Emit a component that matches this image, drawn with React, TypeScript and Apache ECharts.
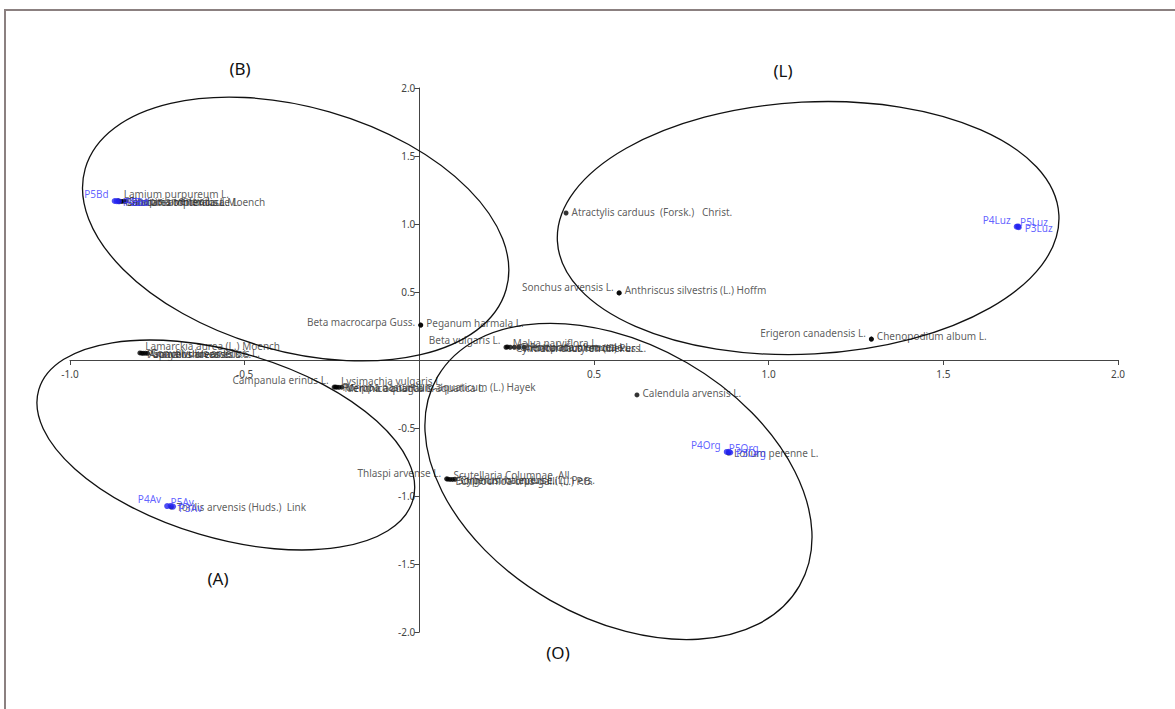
import React, { useEffect, useRef } from "react";
import * as echarts from "echarts";

// ---- axes ----
const X_MIN = -1.0;
const X_MAX = 2.0;
const X_STEP = 0.5;
const Y_MIN = -2.0;
const Y_MAX = 2.0;
const Y_STEP = 0.5;

// ---- species (black points) ----
const speciesNames = [
  "Lamium purpureum L.",
  "Galactites tomentosa Moench",
  "Lamium amplexicaule L.",
  "Sinapis arvensis L.",
  "Fumaria officinalis L.",
  "Lamarckia aurea (L.) Moench",
  "Papaver rhoeas L.",
  "Anagallis arvensis L.",
  "Convolvulus arvensis L.",
  "Sonchus oleraceus L.",
  "Campanula erinus L.",
  "Lysimachia vulgaris L.",
  "Rorippa nasturtium-aquaticum (L.) Hayek",
  "Mentha aquatica L.",
  "Veronica anagallis-aquatica L.",
  "Peganum harmala L.",
  "Beta macrocarpa Guss.",
  "Beta vulgaris L.",
  "Malva parviflora L.",
  "Cynodon dactylon (L.) Pers.",
  "Chenopodium murale L.",
  "Amaranthus retroflexus L.",
  "Portulaca oleracea L.",
  "Thlaspi arvense L.",
  "Scutellaria Columnae  All.",
  "Echinochloa crus-galli (L.) P.B.",
  "Sorghum halepense (L.) Pers.",
  "Cyperus rotundus L.",
  "Calendula arvensis L.",
  "Lolium perenne L.",
  "Atractylis carduus  (Forsk.)   Christ.",
  "Anthriscus silvestris (L.) Hoffm",
  "Sonchus arvensis L.",
  "Chenopodium album L.",
  "Erigeron canadensis L.",
  "Torilis arvensis (Huds.)  Link",
];
const speciesX = [
  -0.862, -0.858, -0.852, -0.846, -0.84,
  -0.8, -0.795, -0.79, -0.784, -0.778,
  -0.244, -0.24, -0.236, -0.23, -0.222,
  0.004, 0.004,
  0.248, 0.252, 0.26, 0.272, 0.285, 0.3,
  0.078, 0.082, 0.088, 0.095, 0.102,
  0.623, 0.885, 0.42, 0.572, 0.572, 1.294, 1.294, -0.71,
];
const speciesY = [
  1.17, 1.166, 1.166, 1.167, 1.166,
  0.052, 0.05, 0.049, 0.05, 0.049,
  -0.199, -0.199, -0.2, -0.201, -0.2,
  0.257, 0.257,
  0.094, 0.096, 0.094, 0.094, 0.093, 0.094,
  -0.874, -0.876, -0.878, -0.878, -0.877,
  -0.257, -0.684, 1.081, 0.493, 0.493, 0.154, 0.154, -1.081,
];
// label placement (layout only)
const speciesLabelSide = [
  "right", "right", "right", "right", "right",
  "right", "right", "right", "right", "right",
  "left", "right", "right", "right", "right",
  "right", "left",
  "left", "right", "right", "right", "right", "right",
  "left", "right", "right", "right", "right",
  "right", "right", "right", "right", "left", "right", "left", "right",
];
const speciesLabelLift = [
  -7, 1, 1, 0, 1,
  -7, 1, 1, 0, 1,
  -7, -6, 0, 1, 1,
  -2, -3,
  -7, -4, 1, 0, 1, 0,
  -6, -4, 2, 1, 1,
  -2, 0, -1, -3, -6, -3, -6, 0,
];

// ---- sites (blue points) ----
const siteNames = [
  "P5Bd", "P4Bd", "P3Bd",
  "P4Av", "P5Av", "P3Av",
  "P4Org", "P5Org", "P3Org",
  "P4Luz", "P5Luz", "P3Luz",
];
const siteX = [
  -0.872, -0.866, -0.86,
  -0.722, -0.712, -0.705,
  0.88, 0.886, 0.89,
  1.71, 1.714, 1.716,
];
const siteY = [
  1.169, 1.168, 1.167,
  -1.074, -1.073, -1.078,
  -0.676, -0.675, -0.68,
  0.98, 0.982, 0.976,
];
const siteLabelSide = [
  "left", "right", "right",
  "left", "right", "right",
  "left", "right", "right",
  "left", "right", "right",
];
const siteLabelShift = [
  [0, -7], [0, 1], [0, 1],
  [0, -7], [-6, -4], [0, 1],
  [0, -7], [-6, -4], [0, 1],
  [0, -7], [-4, -4], [0, 1],
];

// ---- groups (ellipses) ----
const groupNames = ["(B)", "(L)", "(A)", "(O)"];
const groupCenterX = [-0.354, 1.113, -0.554, 0.57];
const groupCenterY = [0.963, 0.97, -0.625, -0.893];
const groupRadiusA = [219, 251, 195, 209]; // px
const groupRadiusB = [122, 126, 93, 137]; // px
const groupTiltDeg = [-16, 3, -16.5, -30];
const groupLabelPos = [
  [240, 68],
  [783, 70],
  [218, 578],
  [558, 652],
];

const LABEL_FONT = "'Noto Sans', 'DejaVu Sans', sans-serif";

const GRID = { left: 70, right: 57, top: 88, bottom: 77 };
const W = 1175;
const H = 709;

export default function App() {
  const ref = useRef<HTMLDivElement>(null);

  useEffect(() => {
    if (!ref.current) return;
    const chart = echarts.init(ref.current, undefined, { renderer: "svg" });

    const speciesData = speciesNames.map((n, i) => ({
      name: n,
      value: [speciesX[i], speciesY[i]],
      label: {
        position: speciesLabelSide[i] as any,
        offset: [0, speciesLabelLift[i]],
      },
    }));
    const siteData = siteNames.map((n, i) => ({
      name: n,
      value: [siteX[i], siteY[i]],
      label: {
        position: siteLabelSide[i] as any,
        offset: siteLabelShift[i],
      },
    }));

    const fmt = (v: number) => (Math.abs(v) < 1e-9 ? "" : v.toFixed(1));

    // place the axes through the origin
    const gw = W - GRID.left - GRID.right;
    const gh = H - GRID.top - GRID.bottom;
    const zeroXOffset = -((0 - X_MIN) / (X_MAX - X_MIN)) * gw; // y-axis shift right
    const zeroYOffset = -((0 - Y_MIN) / (Y_MAX - Y_MIN)) * gh; // x-axis shift up

    chart.setOption({
      animation: false,
      backgroundColor: "#ffffff",
      grid: { ...GRID, containLabel: false },
      xAxis: {
        type: "value",
        position: "bottom",
        offset: zeroYOffset,
        min: X_MIN,
        max: X_MAX,
        interval: X_STEP,
        splitLine: { show: false },
        axisLine: { onZero: false, lineStyle: { color: "#444", width: 1 } },
        axisTick: { show: true, length: 5, lineStyle: { color: "#444" } },
        axisLabel: {
          formatter: fmt,
          color: "#444",
          fontSize: 10,
          fontFamily: LABEL_FONT,
          margin: 9,
        },
      },
      yAxis: {
        type: "value",
        position: "left",
        offset: zeroXOffset,
        min: Y_MIN,
        max: Y_MAX,
        interval: Y_STEP,
        splitLine: { show: false },
        axisLine: { onZero: false, lineStyle: { color: "#444", width: 1 } },
        axisTick: { show: true, length: 5, lineStyle: { color: "#444" } },
        axisLabel: {
          formatter: fmt,
          color: "#444",
          fontSize: 10,
          fontFamily: LABEL_FONT,
          margin: 4,
        },
      },
      series: [
        {
          name: "species",
          type: "scatter",
          symbol: "circle",
          symbolSize: 5,
          itemStyle: { color: "#000" },
          label: {
            show: true,
            formatter: "{b}",
            color: "#333",
            fontSize: 10,
            fontFamily: LABEL_FONT,
            distance: 3,
          },
          data: speciesData,
          z: 3,
        },
        {
          name: "sites",
          type: "scatter",
          symbol: "circle",
          symbolSize: 6,
          itemStyle: { color: "#2323f0" },
          label: {
            show: true,
            formatter: "{b}",
            color: "#3a3aff",
            fontSize: 10,
            fontFamily: LABEL_FONT,
            distance: 3,
          },
          data: siteData,
          z: 4,
        },
      ],
    });

    const graphics: any[] = [
      {
        type: "rect",
        silent: true,
        shape: { x: 5, y: 10, width: 1200, height: 740 },
        style: { fill: "none", stroke: "#8b8080", lineWidth: 2 },
        z: 100,
      },
    ];
    groupNames.forEach((g, i) => {
      const c = chart.convertToPixel({ gridIndex: 0 }, [
        groupCenterX[i],
        groupCenterY[i],
      ]) as number[];
      graphics.push({
        type: "ellipse",
        silent: true,
        x: c[0],
        y: c[1],
        rotation: (groupTiltDeg[i] * Math.PI) / 180,
        shape: { cx: 0, cy: 0, rx: groupRadiusA[i], ry: groupRadiusB[i] },
        style: { fill: "none", stroke: "#111", lineWidth: 1.3 },
        z: 50,
      });
      graphics.push({
        type: "text",
        silent: true,
        x: groupLabelPos[i][0],
        y: groupLabelPos[i][1],
        style: {
          text: g,
          fill: "#111",
          font: "17px 'Noto Sans', sans-serif",
          textAlign: "center",
          textVerticalAlign: "middle",
        },
        z: 50,
      });
    });
    chart.setOption({ graphic: graphics });

    return () => chart.dispose();
  }, []);

  return (
    <div
      ref={ref}
      style={{
        position: "fixed",
        left: 0,
        top: 0,
        width: W,
        height: H,
        background: "#fff",
      }}
    />
  );
}
